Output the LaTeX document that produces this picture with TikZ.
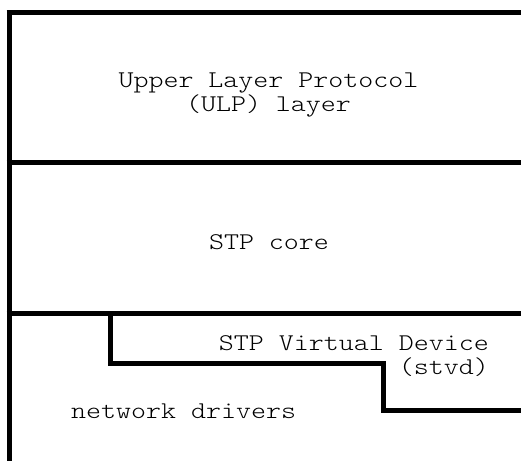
\documentclass[tikz,border=0pt]{standalone}
\usepackage{fontspec}
\newfontfamily\courf[Extension=.otf, FakeStretch=1.19]{lmmonolt10-regular}
\begin{document}
\begin{tikzpicture}[x=1pt,y=-1pt,
  layerline/.style={line width=5pt},
  lbl/.style={font=\courf\fontsize{24}{24}\selectfont, inner sep=0pt}]
\useasboundingbox (0,0) rectangle (521,461);
% frame lines
\draw[layerline] (6.5,12.5) -- (521,12.5);
\draw[layerline] (9,10) -- (9,461);
\draw[layerline] (6.5,162.5) -- (521,162.5);
\draw[layerline] (6.5,313.5) -- (521,313.5);
\draw[layerline] (110,311) -- (110,363.5) -- (383.5,363.5) -- (383.5,410.5) -- (521,410.5);
% labels
\node[lbl, anchor=base] (ulp) at (268.5,87) {Upper Layer Protocol};
\node[lbl, anchor=base] (ulp2) at (268.5,111) {(ULP) layer};
\node[lbl, anchor=base] (core) at (269,249) {STP core};
\node[lbl, anchor=base east] (stvd) at (489,350) {STP Virtual Device};
\node[lbl, anchor=base east] (stvd2) at (489,374) {(stvd)};
\node[lbl, anchor=base west] (net) at (71,418) {network drivers};
\end{tikzpicture}
\end{document}
